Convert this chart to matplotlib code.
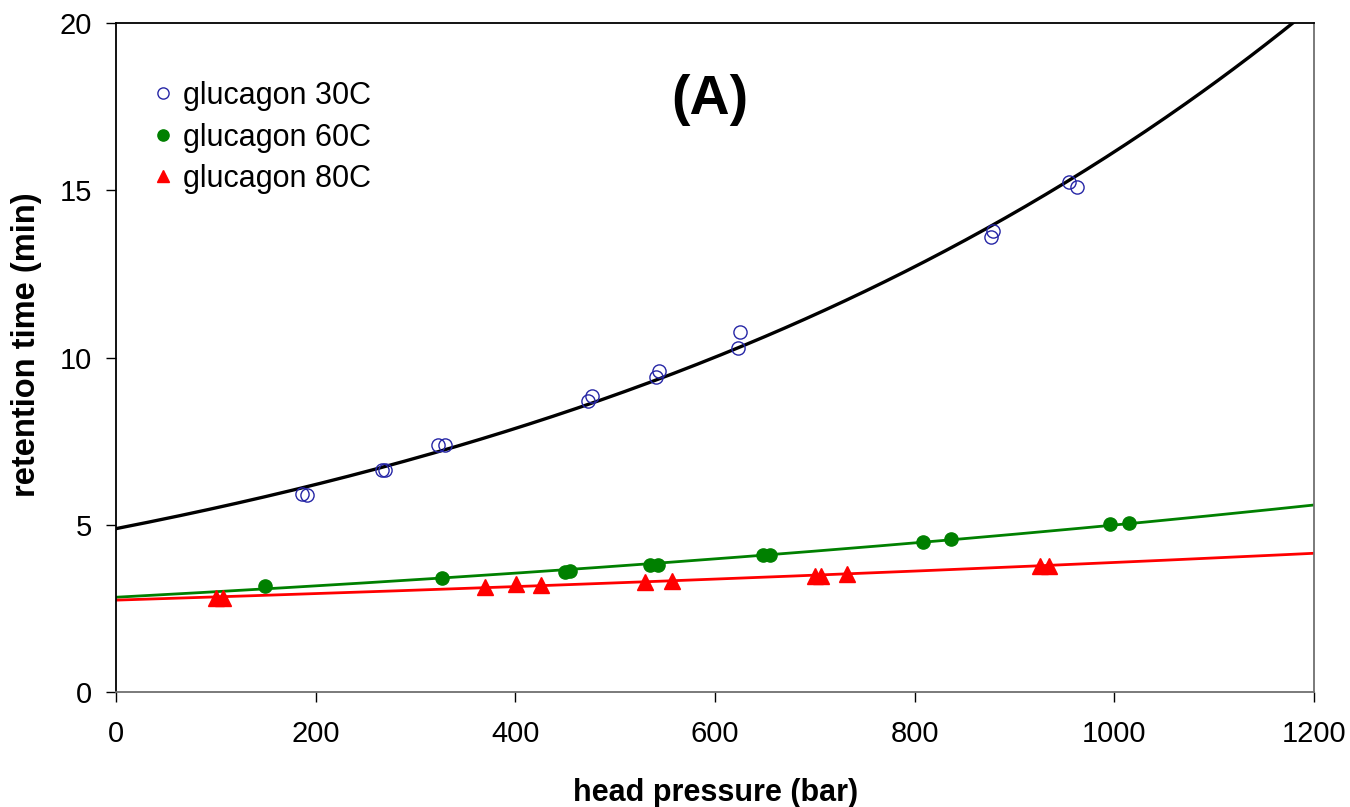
import numpy as np
import matplotlib.pyplot as plt

plt.rcParams['font.family'] = ['Liberation Sans', 'DejaVu Sans']

# --- data ---
p30 = [186, 191, 266, 269, 322, 329, 473, 477, 541, 544, 623, 625, 876, 878, 955, 963]
t30 = [5.92, 5.89, 6.64, 6.64, 7.39, 7.39, 8.71, 8.85, 9.43, 9.60, 10.30, 10.78, 13.62, 13.79, 15.24, 15.09]

p60 = [149, 326, 450, 455, 535, 543, 648, 655, 808, 836, 996, 1015]
t60 = [3.18, 3.41, 3.58, 3.62, 3.81, 3.81, 4.10, 4.10, 4.50, 4.57, 5.03, 5.06]

p80 = [100, 107, 369, 401, 426, 530, 557, 700, 706, 732, 926, 935]
t80 = [2.82, 2.82, 3.15, 3.23, 3.21, 3.28, 3.31, 3.48, 3.48, 3.53, 3.78, 3.78]

labels = ['glucagon 30C', 'glucagon 60C', 'glucagon 80C']

fig = plt.figure(figsize=(13.5, 8.07), dpi=100)
ax = fig.add_axes([0.0861, 0.1425, 0.8872, 0.8286])

# exponential trend lines fitted to each series
xx = np.linspace(0, 1200, 300)
for p, t, c in [(p30, t30, 'black'), (p60, t60, '#008000'), (p80, t80, '#ff0000')]:
    b, lna = np.polyfit(p, np.log(t), 1)
    ax.plot(xx, np.exp(lna + b * xx), color=c, lw=2.4 if c == 'black' else 2.0, zorder=2)

ax.plot(p30, t30, 'o', ms=9.5, mfc='none', mec='#2626a6', mew=1.0, ls='none', label=labels[0], zorder=3)
ax.plot(p60, t60, 'o', ms=9.5, color='#008000', ls='none', label=labels[1], zorder=3)
ax.plot(p80, t80, '^', ms=11, color='#ff0000', ls='none', label=labels[2], zorder=3)

ax.set_xlim(0, 1200)
ax.set_ylim(0, 20)
ax.set_xticks(range(0, 1201, 200))
ax.set_yticks(range(0, 21, 5))
ax.tick_params(axis='both', direction='out', length=7.5, width=1, labelsize=21)
ax.tick_params(axis='x', pad=13)
ax.tick_params(axis='y', pad=10)

for s in ['left', 'top']:
    ax.spines[s].set_color('black')
for s in ['bottom', 'right']:
    ax.spines[s].set_color('#707070')
for s in ax.spines.values():
    s.set_linewidth(1.3)

ax.set_xlabel('head pressure (bar)', fontsize=22, fontweight='bold')
ax.set_ylabel('retention time (min)', fontsize=23.5, fontweight='bold')
ax.xaxis.set_label_coords(0.5, -0.128)
ax.yaxis.set_label_coords(-0.062, 0.52)

ax.text(595, 17.7, '(A)', fontsize=40, fontweight='bold', ha='center', va='center')

ax.legend(loc='upper left', bbox_to_anchor=(0.001, 0.955), frameon=False, fontsize=22,
          handletextpad=0.05, labelspacing=0.38, handlelength=1.2, markerscale=0.85)

fig.savefig('out.png', dpi=100)
